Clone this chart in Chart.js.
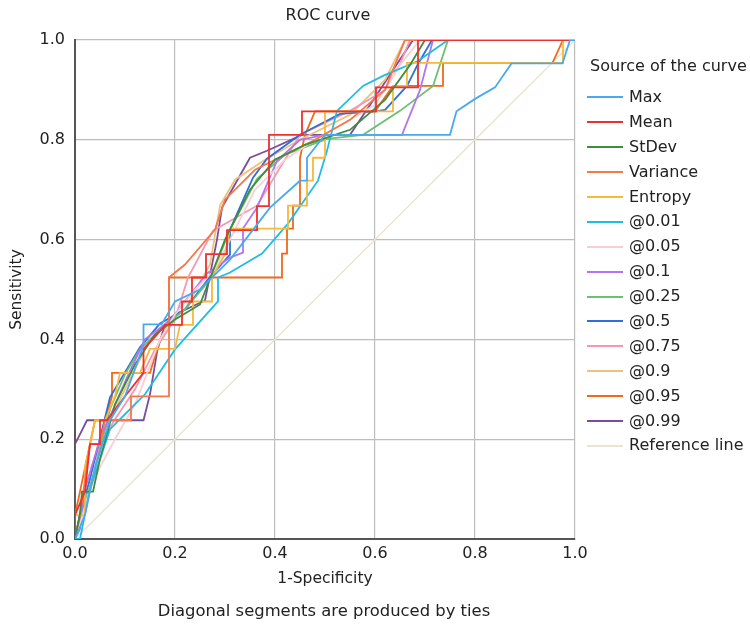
<!DOCTYPE html>
<html>
<head>
<meta charset="utf-8">
<script src="https://cdn.jsdelivr.net/npm/chart.js@4.4.1/dist/chart.umd.min.js"></script>
<style>
  body { margin: 0; background: #fff; font-family: "DejaVu Sans", sans-serif; color: #222; }
  #wrap { position: relative; width: 750px; height: 628px; overflow: hidden; }
  canvas { position: absolute; left: 0; top: 0; }
  .txt { position: absolute; white-space: nowrap; }
  #title { left: 328px; top: 5px; transform: translateX(-50%); font-size: 16px; }
  #note { left: 324px; top: 601px; transform: translateX(-50%); font-size: 16.4px; }
  #legend { position: absolute; left: 587px; top: 54px; font-size: 16px; }
  #legend .head { height: 31px; line-height: 24px; margin-left: 3px; }
  #legend .row { height: 24.9px; line-height: 24.9px; display: flex; align-items: center; }
  #legend .sw { width: 36px; height: 2px; margin-right: 6px; }
</style>
</head>
<body>
<div id="wrap">
  <canvas id="roc" width="750" height="628"></canvas>
  <div class="txt" id="title">ROC curve</div>
  <div class="txt" id="note">Diagonal segments are produced by ties</div>
  <div id="legend"></div>
</div>
<script>
// curve points: [1-specificity, sensitivity]
const maxPts = [[0,0],[0.02,0.048],[0.04,0.143],[0.07,0.238],[0.1,0.286],[0.137,0.388],[0.137,0.43],[0.173,0.43],[0.2,0.476],[0.25,0.5],[0.31,0.56],[0.39,0.664],[0.45,0.718],[0.464,0.718],[0.464,0.764],[0.5,0.81],[0.75,0.81],[0.763,0.857],[0.8,0.882],[0.84,0.905],[0.873,0.953],[0.975,0.953],[0.99,1],[1,1]];
const meanPts = [[0,0],[0,0.048],[0.02,0.095],[0.03,0.19],[0.05,0.19],[0.05,0.238],[0.064,0.238],[0.1,0.286],[0.137,0.333],[0.137,0.381],[0.16,0.405],[0.18,0.429],[0.214,0.429],[0.214,0.476],[0.234,0.476],[0.234,0.524],[0.262,0.524],[0.262,0.571],[0.304,0.571],[0.304,0.619],[0.364,0.619],[0.364,0.667],[0.388,0.667],[0.388,0.81],[0.454,0.81],[0.454,0.857],[0.602,0.857],[0.602,0.905],[0.686,0.905],[0.686,1],[1,1]];
const stdevPts = [[0,0],[0.01,0.05],[0.014,0.095],[0.036,0.095],[0.05,0.16],[0.08,0.27],[0.12,0.35],[0.16,0.41],[0.2,0.44],[0.25,0.47],[0.3,0.6],[0.35,0.7],[0.4,0.76],[0.46,0.79],[0.55,0.82],[0.62,0.88],[0.67,0.95],[0.7,1],[1,1]];
const variancePts = [[0,0],[0.01,0.048],[0.03,0.19],[0.05,0.19],[0.06,0.238],[0.112,0.238],[0.112,0.286],[0.188,0.286],[0.188,0.524],[0.22,0.55],[0.28,0.62],[0.3,0.68],[0.36,0.74],[0.42,0.77],[0.48,0.8],[0.55,0.84],[0.62,0.9],[0.66,1],[1,1]];
const entropyPts = [[0,0],[0,0.048],[0.02,0.048],[0.02,0.143],[0.03,0.19],[0.04,0.238],[0.06,0.238],[0.08,0.286],[0.09,0.333],[0.13,0.333],[0.15,0.381],[0.2,0.381],[0.21,0.429],[0.236,0.429],[0.236,0.476],[0.274,0.476],[0.274,0.524],[0.3,0.571],[0.31,0.622],[0.426,0.622],[0.426,0.668],[0.464,0.668],[0.464,0.718],[0.476,0.718],[0.476,0.764],[0.5,0.764],[0.5,0.857],[0.636,0.857],[0.636,0.908],[0.664,0.908],[0.664,0.954],[0.976,0.954],[0.976,1],[1,1]];
const p001Pts = [[0,0],[0.01,0],[0.03,0.1],[0.07,0.22],[0.1,0.25],[0.14,0.29],[0.2,0.38],[0.286,0.476],[0.286,0.524],[0.31,0.534],[0.374,0.572],[0.426,0.632],[0.486,0.718],[0.504,0.778],[0.524,0.858],[0.576,0.908],[0.616,0.928],[0.686,0.958],[0.746,1],[1,1]];
const p005Pts = [[0,0],[0.01,0.03],[0.03,0.1],[0.05,0.144],[0.08,0.2],[0.12,0.27],[0.144,0.332],[0.17,0.4],[0.2,0.45],[0.24,0.5],[0.28,0.54],[0.32,0.62],[0.36,0.7],[0.42,0.76],[0.48,0.8],[0.55,0.84],[0.6,0.87],[0.65,0.95],[0.69,1],[1,1]];
const p01Pts = [[0,0],[0.01,0.02],[0.02,0.1],[0.05,0.2],[0.104,0.324],[0.14,0.4],[0.19,0.438],[0.264,0.532],[0.31,0.564],[0.336,0.574],[0.336,0.622],[0.364,0.664],[0.404,0.758],[0.45,0.8],[0.5,0.81],[0.654,0.81],[0.69,0.9],[0.716,1],[1,1]];
const p025Pts = [[0,0],[0.01,0.04],[0.04,0.14],[0.07,0.26],[0.1,0.33],[0.13,0.38],[0.18,0.43],[0.22,0.46],[0.27,0.52],[0.31,0.62],[0.364,0.722],[0.42,0.77],[0.504,0.802],[0.576,0.81],[0.65,0.858],[0.716,0.908],[0.746,1],[1,1]];
const p05Pts = [[0,0],[0.01,0.05],[0.03,0.12],[0.07,0.284],[0.13,0.384],[0.17,0.432],[0.22,0.46],[0.264,0.518],[0.31,0.57],[0.31,0.62],[0.356,0.724],[0.384,0.762],[0.45,0.81],[0.53,0.852],[0.6,0.857],[0.62,0.86],[0.664,0.908],[0.686,0.952],[0.714,1],[1,1]];
const p075Pts = [[0,0],[0.01,0.048],[0.03,0.095],[0.05,0.19],[0.08,0.24],[0.12,0.3],[0.16,0.38],[0.2,0.44],[0.226,0.524],[0.276,0.618],[0.364,0.668],[0.45,0.81],[0.55,0.858],[0.62,0.9],[0.65,0.952],[0.67,1],[1,1]];
const p09Pts = [[0,0],[0.02,0.1],[0.05,0.2],[0.1,0.3],[0.15,0.4],[0.22,0.46],[0.27,0.55],[0.29,0.668],[0.32,0.72],[0.38,0.76],[0.45,0.8],[0.55,0.85],[0.62,0.92],[0.66,1],[1,1]];
const p095Pts = [[0,0],[0,0.048],[0.01,0.095],[0.02,0.143],[0.03,0.19],[0.04,0.238],[0.06,0.238],[0.074,0.286],[0.074,0.333],[0.15,0.333],[0.17,0.4],[0.188,0.43],[0.188,0.524],[0.414,0.524],[0.414,0.572],[0.424,0.572],[0.424,0.622],[0.436,0.622],[0.436,0.668],[0.45,0.668],[0.45,0.764],[0.46,0.81],[0.48,0.857],[0.6,0.857],[0.636,0.908],[0.736,0.908],[0.736,0.954],[0.955,0.954],[0.976,1],[1,1]];
const p099Pts = [[0,0],[0,0.19],[0.024,0.238],[0.137,0.238],[0.15,0.29],[0.165,0.38],[0.18,0.43],[0.2,0.45],[0.26,0.478],[0.284,0.6],[0.294,0.664],[0.324,0.718],[0.35,0.764],[0.384,0.778],[0.454,0.81],[0.55,0.81],[0.6,0.885],[0.644,0.952],[0.676,1],[1,1]];
const refPts = [[0,0],[1,1]];

const seriesNames = ['Max','Mean','StDev','Variance','Entropy','@0.01','@0.05','@0.1','@0.25','@0.5','@0.75','@0.9','@0.95','@0.99','Reference line'];
const seriesPts = [maxPts, meanPts, stdevPts, variancePts, entropyPts, p001Pts, p005Pts, p01Pts, p025Pts, p05Pts, p075Pts, p09Pts, p095Pts, p099Pts, refPts];
const seriesColors = ['#4aa8f0','#f03030','#3d8c40','#f5774a','#f6b93b','#1ebde6','#f8cfd3','#b374f2','#6cc070','#2e6fd8','#f597b0','#ebc27a','#f06a1a','#7b4c9c','#ebe4d2'];
const tickVals = [0, 0.2, 0.4, 0.6, 0.8, 1.0];

const datasets = seriesNames.map((name, i) => ({
  label: name,
  data: seriesPts[i].map(p => ({ x: p[0], y: p[1] })),
  borderColor: seriesColors[i],
  backgroundColor: seriesColors[i],
  borderWidth: i === 14 ? 1.5 : 1.8,
  pointRadius: 0,
  showLine: true,
  tension: 0,
  order: i === 14 ? 100 : i
}));

const tickFont = { family: 'DejaVu Sans', size: 16 };

new Chart(document.getElementById('roc'), {
  type: 'scatter',
  data: { datasets },
  options: {
    responsive: false,
    animation: false,
    layout: { padding: { top: 40, right: 175, left: 0, bottom: 37 } },
    plugins: { legend: { display: false }, tooltip: { enabled: false } },
    scales: {
      x: {
        type: 'linear', min: 0, max: 1,
        afterBuildTicks: s => { s.ticks = tickVals.map(v => ({ value: v })); },
        afterFit: s => { s.height = 52; },
        ticks: { font: tickFont, color: '#222', padding: 5, callback: v => v.toFixed(1), maxRotation: 0 },
        grid: { color: '#bdbdbd', lineWidth: 1.2, drawTicks: false },
        border: { color: '#555', width: 2 },
        title: { display: true, text: '1-Specificity', font: { family: 'DejaVu Sans', size: 15.5 }, color: '#222', padding: { top: 4, bottom: 3 } }
      },
      y: {
        type: 'linear', min: 0, max: 1,
        afterBuildTicks: s => { s.ticks = tickVals.map(v => ({ value: v })); },
        afterFit: s => { s.width = 75; },
        ticks: { font: tickFont, color: '#222', padding: 10, callback: v => v.toFixed(1) },
        grid: { color: '#bdbdbd', lineWidth: 1.2, drawTicks: false },
        border: { color: '#555', width: 2 },
        title: { display: true, text: 'Sensitivity', font: { family: 'DejaVu Sans', size: 15.5 }, color: '#222', padding: { top: 8, bottom: 0 } }
      }
    }
  }
});

// legend on the right
const legend = document.getElementById('legend');
const head = document.createElement('div');
head.className = 'head';
head.textContent = 'Source of the curve';
legend.appendChild(head);
seriesNames.forEach((name, i) => {
  const row = document.createElement('div');
  row.className = 'row';
  const sw = document.createElement('span');
  sw.className = 'sw';
  sw.style.background = seriesColors[i];
  const label = document.createElement('span');
  label.textContent = name;
  row.appendChild(sw);
  row.appendChild(label);
  legend.appendChild(row);
});
</script>
</body>
</html>
